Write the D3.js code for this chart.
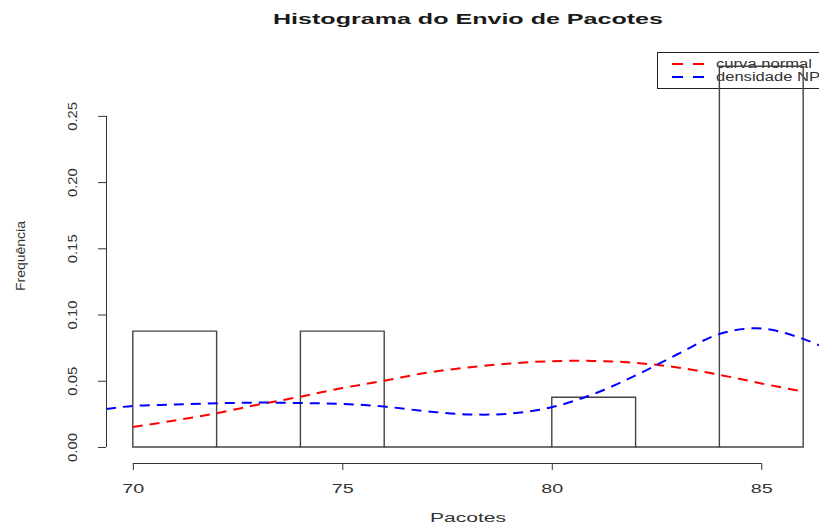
<!DOCTYPE html>
<html>
<head>
<meta charset="utf-8">
<script src="https://cdn.jsdelivr.net/npm/d3@7"></script>
<style>
  html, body { margin: 0; padding: 0; background: #fff; }
  svg { display: block; font-family: "Liberation Sans", Arial, sans-serif; }
</style>
</head>
<body>
<svg id="chart" width="819" height="524"></svg>
<script>
// Histogram bins (start, end) and their densities
const binStarts = [70, 72, 74, 76, 78, 80, 82, 84];
const binEnds   = [72, 74, 76, 78, 80, 82, 84, 86];
const binDensity = [0.0875, 0, 0.0875, 0, 0, 0.0375, 0, 0.2875];

// Fitted normal curve ("curva normal")
const normX = [70, 71, 72, 73, 74, 75, 76, 77, 78, 79, 80, 81, 82, 83, 84, 85, 86];
const normY = [0.0151, 0.0200, 0.0255, 0.0320, 0.0380, 0.0445, 0.0500, 0.0560, 0.0600, 0.0630, 0.0648,
               0.0650, 0.0635, 0.0600, 0.0545, 0.0480, 0.0418];

// Kernel density estimate ("densidade NP")
const densX = [69.36, 70, 71, 72, 73, 74, 75, 76, 77, 78, 79, 80, 81, 82, 83, 84, 85, 86, 86.64];
const densY = [0.0287, 0.0310, 0.0320, 0.0330, 0.0335, 0.0332, 0.0325, 0.0305, 0.0270, 0.0246, 0.0252,
               0.0300, 0.0400, 0.0540, 0.0700, 0.0853, 0.0895, 0.0816, 0.0730];

// Axis ticks and labels
const xTicks = [70, 75, 80, 85];
const yTicks = [0, 0.05, 0.10, 0.15, 0.20, 0.25];
const yTickLabels = ["0.00", "0.05", "0.10", "0.15", "0.20", "0.25"];

const titleText = "Histograma do Envio de Pacotes";
const xLabel = "Pacotes";
const yLabel = "Frequência";
const legendLabels = ["curva normal", "densidade NP"];
const legendColors = ["#ff0000", "#0000ff"];

const svg = d3.select("#chart");
const ink = "#333";

// Plot region in user coordinates (data range plus 4% padding)
const x = d3.scaleLinear().domain([69.36, 86.64]).range([106, 830]);
const y = d3.scaleLinear().domain([-0.0121, 0.302]).range([463, 47]);

svg.append("defs").append("clipPath").attr("id", "plotClip")
  .append("rect").attr("x", 106).attr("y", 47).attr("width", 724).attr("height", 416);

// Title
svg.append("text")
  .attr("x", 468).attr("y", 24)
  .attr("text-anchor", "middle")
  .attr("font-size", 15).attr("font-weight", "bold").attr("fill", "#1a1a1a")
  .attr("textLength", 390).attr("lengthAdjust", "spacingAndGlyphs")
  .text(titleText);

// Legend (transparent box)
const lg = svg.append("g");
lg.append("rect").attr("x", 657.5).attr("y", 52.5).attr("width", 200).attr("height", 36)
  .attr("fill", "none").attr("stroke", "#222").attr("stroke-width", 1);
legendLabels.forEach((lab, i) => {
  const ly = 64 + i * 13;
  lg.append("line").attr("x1", 672).attr("x2", 704).attr("y1", ly).attr("y2", ly)
    .attr("stroke", legendColors[i]).attr("stroke-width", 2).attr("stroke-dasharray", "11,10");
  lg.append("text").attr("x", 716).attr("y", ly).attr("dy", "0.36em")
    .attr("font-size", 12).attr("fill", ink)
    .attr("textLength", i === 0 ? 96 : 104).attr("lengthAdjust", "spacingAndGlyphs")
    .text(lab);
});

// Histogram bars (unfilled outlines; empty bins still leave their base line)
svg.append("g").selectAll("path")
  .data(binStarts.map((s, i) => ({ s, e: binEnds[i], d: binDensity[i] })))
  .join("path")
  .attr("d", d => {
    const x0 = x(d.s), x1 = x(d.e), y0 = y(0), y1 = y(d.d);
    return `M${x0},${y0}L${x0},${y1}L${x1},${y1}L${x1},${y0}Z`;
  })
  .attr("fill", "none")
  .attr("stroke", "#444")
  .attr("stroke-width", 1.4);

// Curves
const line = d3.line().x(d => x(d[0])).y(d => y(d[1])).curve(d3.curveCatmullRom.alpha(0.5));
const curves = svg.append("g").attr("clip-path", "url(#plotClip)");
curves.append("path")
  .attr("d", line(normX.map((v, i) => [v, normY[i]])))
  .attr("fill", "none").attr("stroke", "#ff0000").attr("stroke-width", 2)
  .attr("stroke-dasharray", "10,7");
curves.append("path")
  .attr("d", line(densX.map((v, i) => [v, densY[i]])))
  .attr("fill", "none").attr("stroke", "#0000ff").attr("stroke-width", 2)
  .attr("stroke-dasharray", "10,7");

// X axis
const xAxis = svg.append("g").attr("transform", "translate(0,463)")
  .call(d3.axisBottom(x).tickValues(xTicks).tickSize(7).tickSizeOuter(0).tickFormat(d3.format("d")));
xAxis.select(".domain").remove();
xAxis.append("line").attr("x1", x(xTicks[0])).attr("x2", x(xTicks[xTicks.length - 1]))
  .attr("y1", 0.5).attr("y2", 0.5).attr("stroke", ink);
xAxis.selectAll(".tick line").attr("stroke", ink);
xAxis.selectAll(".tick text")
  .attr("y", 25).attr("dy", "0.35em")
  .attr("font-size", 13).attr("fill", ink).attr("font-family", "Liberation Sans, Arial, sans-serif")
  .attr("textLength", 22).attr("lengthAdjust", "spacingAndGlyphs");

// Y axis
const yAxis = svg.append("g").attr("transform", "translate(106,0)")
  .call(d3.axisLeft(y).tickValues(yTicks).tickSize(8).tickSizeOuter(0)
    .tickFormat((d, i) => yTickLabels[i]));
yAxis.select(".domain").remove();
yAxis.append("line").attr("x1", 0.5).attr("x2", 0.5)
  .attr("y1", y(yTicks[0])).attr("y2", y(yTicks[yTicks.length - 1])).attr("stroke", ink);
yAxis.selectAll(".tick line").attr("stroke", ink);
yAxis.selectAll(".tick text")
  .attr("x", null).attr("dy", null)
  .attr("text-anchor", "middle")
  .attr("transform", "translate(-34,0) rotate(-90)")
  .attr("y", 0).attr("dy", "0.36em")
  .attr("font-size", 13).attr("fill", ink).attr("font-family", "Liberation Sans, Arial, sans-serif")
  .attr("textLength", 29).attr("lengthAdjust", "spacingAndGlyphs");

// Axis titles
svg.append("text")
  .attr("x", 468).attr("y", 522)
  .attr("text-anchor", "middle").attr("font-size", 13).attr("fill", ink)
  .attr("textLength", 76).attr("lengthAdjust", "spacingAndGlyphs")
  .text(xLabel);
svg.append("text")
  .attr("transform", "translate(20,256) rotate(-90)")
  .attr("dy", "0.36em")
  .attr("text-anchor", "middle").attr("font-size", 13).attr("fill", ink)
  .attr("textLength", 70).attr("lengthAdjust", "spacingAndGlyphs")
  .text(yLabel);
</script>
</body>
</html>
